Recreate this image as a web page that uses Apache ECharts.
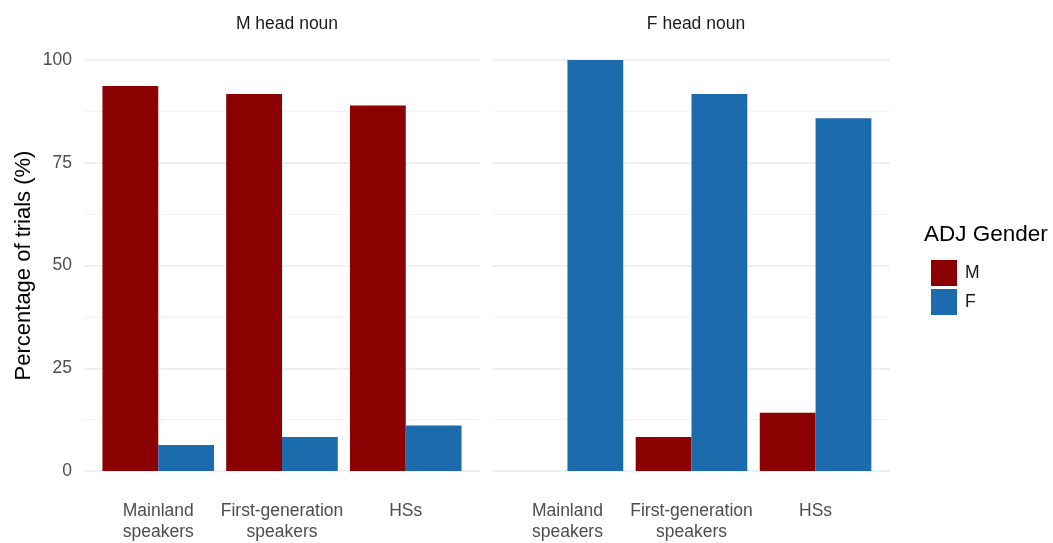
<!DOCTYPE html>
<html>
<head>
<meta charset="utf-8">
<script src="https://cdn.jsdelivr.net/npm/echarts@6/dist/echarts.min.js"></script>
<style>
  html, body { margin: 0; padding: 0; background: #fff; }
  #chart { width: 1053px; height: 543px; }
</style>
</head>
<body>
<div id="chart"></div>
<script>
// groups on the x axis (same in both panels)
const groups = ['Mainland\nspeakers', 'First-generation\nspeakers', 'HSs'];
const panels = ['M head noun', 'F head noun'];
const yTicks = [0, 25, 50, 75, 100];

// percentage of trials, per panel
const mHeadM = [93.7, 91.7, 88.9];
const mHeadF = [6.3, 8.3, 11.1];
const fHeadM = [0, 8.3, 14.2];
const fHeadF = [100, 91.7, 85.8];

const RED = '#8B0000';
const BLUE = '#1B6BAD';
const font = 'Liberation Sans, Arial, sans-serif';

const pos = v => v.map((y, i) => [i + 1, y]);

const chart = echarts.init(document.getElementById('chart'));

const xAxis = (gi) => ({
  type: 'value', gridIndex: gi, min: 0.4, max: 3.6,
  axisLine: { show: false }, axisTick: { show: false }, splitLine: { show: false },
  axisLabel: {
    customValues: [1, 2, 3],
    formatter: v => groups[Math.round(v) - 1] || '',
    color: '#4D4D4D', fontSize: 17.5, fontFamily: font, lineHeight: 21, margin: 30
  }
});

const yAxis = (gi, showLabel) => ({
  type: 'value', gridIndex: gi, min: 0, max: 100, interval: 25,
  name: showLabel ? 'Percentage of trials (%)' : '',
  nameLocation: 'middle', nameGap: 49,
  nameTextStyle: { color: '#000', fontSize: 22, fontFamily: font },
  axisLine: { show: false }, axisTick: { show: false },
  axisLabel: {
    show: showLabel, color: '#4D4D4D', fontSize: 17.5, fontFamily: font, margin: 12,
    customValues: yTicks
  },
  splitLine: { lineStyle: { color: '#EBEBEB', width: 1.5 } },
  minorTick: { show: false, splitNumber: 2 },
  minorSplitLine: { show: true, lineStyle: { color: '#F3F3F3', width: 1 } }
});

const bar = (name, data, gi, color) => ({
  name, type: 'bar', xAxisIndex: gi, yAxisIndex: gi,
  data: pos(data), barWidth: 55.8, barGap: '0%',
  itemStyle: { color }, emphasis: { disabled: true }
});

chart.setOption({
  animation: false,
  textStyle: { fontFamily: font },
  title: [
    { text: panels[0], left: 282, top: 10, textAlign: 'center',
      textStyle: { fontSize: 17.5, fontWeight: 'normal', color: '#1A1A1A' } },
    { text: panels[1], left: 691, top: 10, textAlign: 'center',
      textStyle: { fontSize: 17.5, fontWeight: 'normal', color: '#1A1A1A' } },
    { text: 'ADJ Gender', left: 919, top: 218,
      textStyle: { fontSize: 22.5, fontWeight: 'normal', color: '#000' } }
  ],
  legend: {
    orient: 'vertical', left: 926, top: 255, itemWidth: 26, itemHeight: 26, itemGap: 3,
    icon: 'rect', data: ['M', 'F'],
    textStyle: { fontSize: 17.5, color: '#1A1A1A', padding: [0, 0, 0, 3] }
  },
  grid: [
    { left: 84, top: 60, width: 396, height: 411 },
    { left: 493, top: 60, width: 397, height: 411 }
  ],
  xAxis: [xAxis(0), xAxis(1)],
  yAxis: [yAxis(0, true), yAxis(1, false)],
  series: [
    bar('M', mHeadM, 0, RED),
    bar('F', mHeadF, 0, BLUE),
    bar('M', fHeadM, 1, RED),
    bar('F', fHeadF, 1, BLUE)
  ]
});
</script>
</body>
</html>
